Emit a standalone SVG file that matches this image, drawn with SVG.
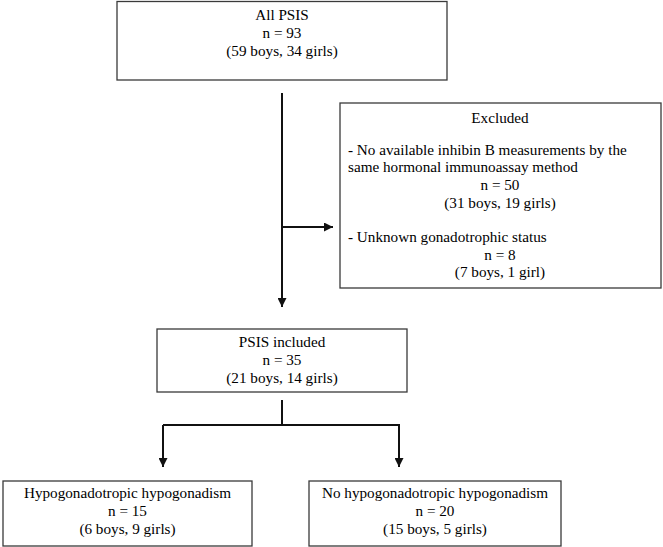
<svg xmlns="http://www.w3.org/2000/svg" width="663" height="547" viewBox="0 0 663 547">
<style>
.box{fill:#fff;stroke:#3a3a3a;stroke-width:1.3}
.t{font-family:"Liberation Serif","Times New Roman",serif;font-size:15.2px;fill:#000}
.c{text-anchor:middle}
.ln{fill:none;stroke:#111;stroke-width:2}
</style>
<defs>
<marker id="ah" viewBox="0 0 10 10" refX="10" refY="5" markerWidth="9" markerHeight="9" markerUnits="userSpaceOnUse" orient="auto">
<path d="M0,0 L10,5 L0,10 z" fill="#111"/>
</marker>
</defs>
<rect width="663" height="547" fill="#fff"/>
<g id="connectors">
<line class="ln" x1="282" y1="93" x2="282" y2="307" marker-end="url(#ah)"/>
<line class="ln" x1="282" y1="227" x2="333" y2="227" marker-end="url(#ah)"/>
<line class="ln" x1="282" y1="400" x2="282" y2="425"/>
<polyline class="ln" points="163,425 399,425 399,467" marker-end="url(#ah)"/>
<line class="ln" x1="163" y1="425" x2="163" y2="467" marker-end="url(#ah)"/>
</g>
<g id="all-psis">
<rect class="box" x="117" y="1.5" width="330" height="78.5"/>
<text class="t c" x="282" y="20">All PSIS</text>
<text class="t c" x="282" y="38">n = 93</text>
<text class="t c" x="282" y="56">(59 boys, 34 girls)</text>
</g>
<g id="excluded">
<rect class="box" x="340" y="103" width="321" height="185"/>
<text class="t c" x="500" y="123">Excluded</text>
<text class="t" x="348" y="155">- No available inhibin B measurements by the</text>
<text class="t" x="348" y="172">same hormonal immunoassay method</text>
<text class="t c" x="500" y="190">n = 50</text>
<text class="t c" x="500" y="208">(31 boys, 19 girls)</text>
<text class="t" x="348" y="242">- Unknown gonadotrophic status</text>
<text class="t c" x="500" y="260">n = 8</text>
<text class="t c" x="500" y="277">(7 boys, 1 girl)</text>
</g>
<g id="psis-included">
<rect class="box" x="157" y="329" width="250" height="63"/>
<text class="t c" x="282" y="347">PSIS included</text>
<text class="t c" x="282" y="365">n = 35</text>
<text class="t c" x="282" y="383">(21 boys, 14 girls)</text>
</g>
<g id="hh">
<rect class="box" x="3" y="481" width="249" height="65"/>
<text class="t c" x="127.5" y="498">Hypogonadotropic hypogonadism</text>
<text class="t c" x="127.5" y="516">n = 15</text>
<text class="t c" x="127.5" y="534">(6 boys, 9 girls)</text>
</g>
<g id="no-hh">
<rect class="box" x="309" y="481" width="252" height="65"/>
<text class="t c" x="435" y="498">No hypogonadotropic hypogonadism</text>
<text class="t c" x="435" y="516">n = 20</text>
<text class="t c" x="435" y="534">(15 boys, 5 girls)</text>
</g>
</svg>
